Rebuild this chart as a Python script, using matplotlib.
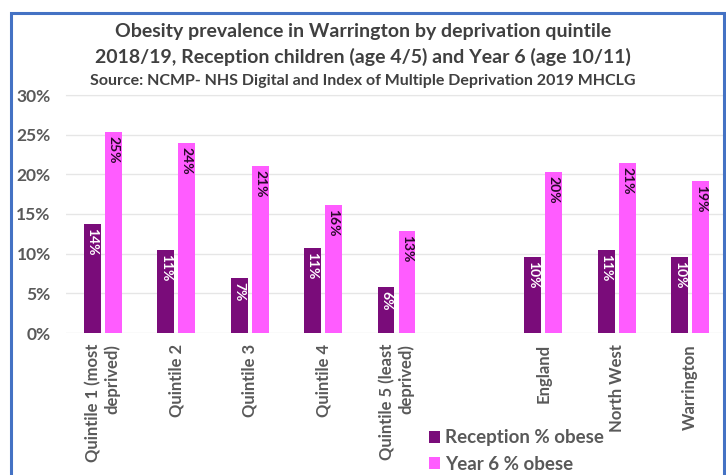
import matplotlib.pyplot as plt
import numpy as np
from matplotlib.patches import Rectangle

categories = ["Quintile 1 (most\ndeprived)", "Quintile 2", "Quintile 3", "Quintile 4",
              "Quintile 5 (least\ndeprived)", "", "England", "North West", "Warrington"]
reception = [13.7, 10.5, 6.9, 10.7, 5.8, None, 9.6, 10.5, 9.6]
year6 = [25.3, 24.0, 21.0, 16.1, 12.8, None, 20.3, 21.4, 19.1]
yticks = [0, 5, 10, 15, 20, 25, 30]

rec_color = "#7A0C7A"
y6_color = "#FF5CFF"
text_grey = "#595959"

plt.rcParams["font.family"] = ["Lato", "DejaVu Sans"]


def pct(v):
    return f"{int(v + 0.5)}%"


fig = plt.figure(figsize=(7.26, 4.75), dpi=100)
ax = fig.add_axes([66 / 726, 142 / 475, 661 / 726, 238 / 475])

x = np.arange(len(categories))
w = 0.23
off = 0.143
for i in x:
    r, y6 = reception[i], year6[i]
    if r is None:
        continue
    ax.bar(i - off, r, width=w, color=rec_color, zorder=3,
           label="Reception % obese" if i == 0 else None)
    ax.bar(i + off, y6, width=w, color=y6_color, zorder=3,
           label="Year 6 % obese" if i == 0 else None)
    ax.text(i - off, r - 0.5, pct(r), rotation=-90, ha="center", va="top",
            color="white", fontsize=10, fontweight="bold", zorder=4)
    ax.text(i + off, y6 - 0.5, pct(y6), rotation=-90, ha="center", va="top",
            color="#2a0a2a", fontsize=10, fontweight="bold", zorder=4)

ax.set_xlim(-0.5, len(categories) - 0.5)
ax.set_ylim(0, 30)
ax.set_yticks(yticks)
ax.set_yticklabels([f"{t}%" for t in yticks], fontsize=12.5, fontweight="bold", color=text_grey)
ax.set_xticks(x)
ax.set_xticklabels(categories, rotation=90, fontsize=12, fontweight="bold",
                   color=text_grey, va="top", ha="center", multialignment="right")
ax.tick_params(axis="both", length=0)
ax.tick_params(axis="y", pad=11)
ax.tick_params(axis="x", pad=8)
ax.grid(axis="y", color="#e6e6e6", linewidth=1, zorder=0)
for s in ["left", "right", "bottom"]:
    ax.spines[s].set_visible(False)
ax.spines["top"].set_color("#e6e6e6")

fig.legend(loc="upper left", bbox_to_anchor=(420 / 726, 1 - 420 / 475), frameon=False,
           handlelength=0.55, handleheight=0.6, handletextpad=0.3,
           labelspacing=0.5, labelcolor=text_grey, borderpad=0,
           prop={"weight": "bold", "size": 13.5})

fig.text(0.5, 1 - 32 / 475, "Obesity prevalence in Warrington by deprivation quintile",
         ha="center", va="center", fontsize=14, fontweight="bold", color="#404040")
fig.text(0.5, 1 - 57 / 475, "2018/19, Reception children (age 4/5) and Year 6 (age 10/11)",
         ha="center", va="center", fontsize=14, fontweight="bold", color="#404040")
fig.text(0.5, 1 - 81 / 475, "Source: NCMP- NHS Digital and Index of Multiple Deprivation 2019 MHCLG",
         ha="center", va="center", fontsize=11.5, fontweight="bold", color="#404040")

fig.patches.append(Rectangle((11 / 726, -0.05), 713 / 726, 1.05 - 13 / 475,
                             transform=fig.transFigure, fill=False,
                             edgecolor="#4472C4", linewidth=2.2))

fig.savefig("out.png", dpi=100)
